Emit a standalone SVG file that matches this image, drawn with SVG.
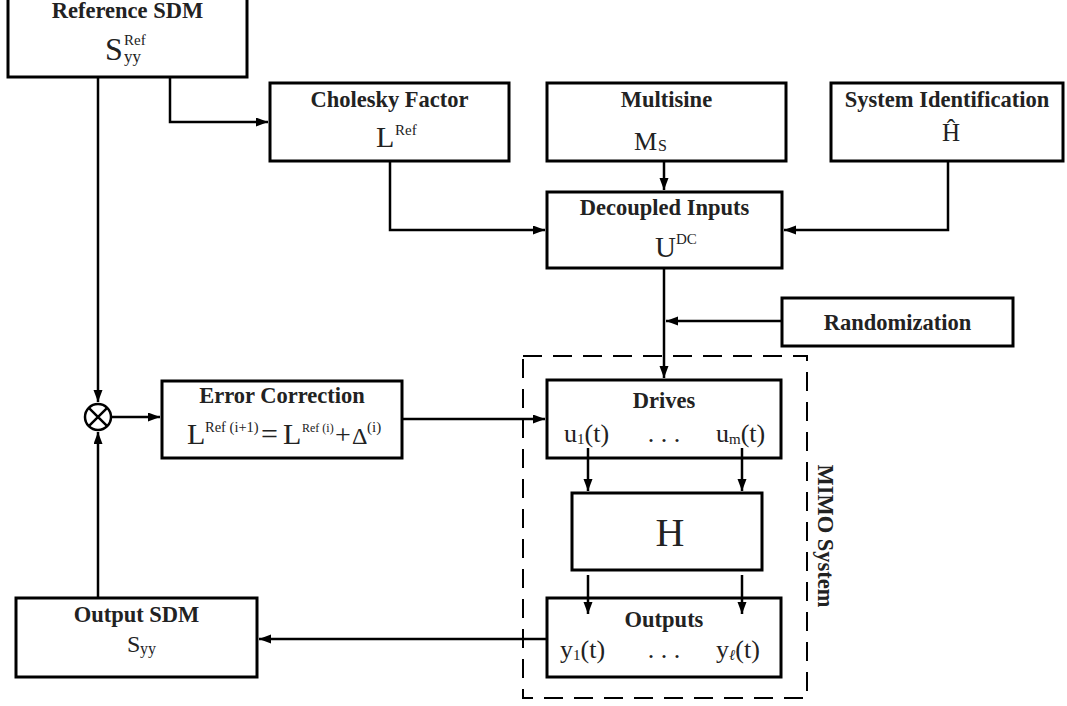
<svg xmlns="http://www.w3.org/2000/svg" width="1067" height="706" viewBox="0 0 1067 706">
<style>
.box{fill:#fff;stroke:#000;stroke-width:3}
.ln{fill:none;stroke:#000;stroke-width:2.5}
.t{font-family:"Liberation Serif","Times New Roman",serif;font-weight:bold;font-size:22.5px;fill:#222;text-anchor:middle}
.m{font-family:"Liberation Serif","Times New Roman",serif;fill:#222}
</style>
<defs>
<marker id="ah" markerUnits="userSpaceOnUse" markerWidth="14" markerHeight="10" refX="12" refY="4.5" orient="auto">
<path d="M0,0 L12,4.5 L0,9 Z" fill="#000"/>
</marker>
</defs>
<rect width="1067" height="706" fill="#fff"/>

<g id="mimo">
<rect x="523" y="356" width="284" height="342" fill="none" stroke="#000" stroke-width="2" stroke-dasharray="19,11"/>
<text class="t" transform="translate(818,536) rotate(90)">MIMO System</text>
</g>

<g id="sum">
<circle cx="98" cy="417" r="13" fill="#fff" stroke="#000" stroke-width="2.5"/>
<path class="ln" d="M88.8,407.8 L107.2,426.2 M107.2,407.8 L88.8,426.2"/>
</g>

<g id="refsdm">
<rect class="box" x="8" y="-3" width="239" height="80"/>
<text class="t" x="127.5" y="18">Reference SDM</text>
<text class="m" x="105" y="60" font-size="32">S</text>
<text class="m" x="124" y="45" font-size="15">Ref</text>
<text class="m" x="124" y="62" font-size="17">yy</text>
</g>

<g id="cholesky">
<rect class="box" x="270" y="83" width="239" height="78"/>
<text class="t" x="389.5" y="107">Cholesky Factor</text>
<text class="m" x="376" y="147" font-size="30">L</text>
<text class="m" x="395" y="135" font-size="15">Ref</text>
</g>

<g id="multisine">
<rect class="box" x="547" y="83" width="239" height="78"/>
<text class="t" x="666.5" y="107">Multisine</text>
<text class="m" x="634" y="150" font-size="26">M</text>
<text class="m" x="658" y="151" font-size="16">S</text>
</g>

<g id="sysid">
<rect class="box" x="831" y="83" width="232" height="78"/>
<text class="t" x="947" y="107">System Identification</text>
<text class="m" x="951" y="141" font-size="25" text-anchor="middle">Ĥ</text>
</g>

<g id="decoupled">
<rect class="box" x="547" y="192" width="235" height="76"/>
<text class="t" x="664.5" y="215">Decoupled Inputs</text>
<text class="m" x="655" y="257" font-size="29">U</text>
<text class="m" x="676" y="244" font-size="15">DC</text>
</g>

<g id="randomization">
<rect class="box" x="782" y="298" width="231" height="48"/>
<text class="t" x="897.5" y="330">Randomization</text>
</g>

<g id="errorcorr">
<rect class="box" x="162" y="381" width="240" height="77"/>
<text class="t" x="282" y="403">Error Correction</text>
<text class="m" x="187" y="444" font-size="30">L</text>
<text class="m" x="205" y="432" font-size="14.5">Ref (i+1)</text>
<text class="m" x="261" y="444" font-size="30">=</text>
<text class="m" x="283" y="444" font-size="30">L</text>
<text class="m" x="302" y="432" font-size="12">Ref (i)</text>
<text class="m" x="335" y="444" font-size="28">+</text>
<text class="m" x="352" y="444" font-size="24">Δ</text>
<text class="m" x="367" y="432" font-size="15">(i)</text>
</g>

<g id="drives">
<rect class="box" x="547" y="380" width="234" height="78"/>
<text class="t" x="664" y="408">Drives</text>
<text class="m" x="564" y="442" font-size="26">u<tspan font-size="15" dy="2">1</tspan><tspan dy="-2">(t)</tspan></text>
<text class="m" x="664" y="442" font-size="26" text-anchor="middle">. . .</text>
<text class="m" x="716" y="442" font-size="26">u<tspan font-size="15" dy="2">m</tspan><tspan dy="-2">(t)</tspan></text>
</g>

<g id="h">
<rect class="box" x="572" y="493" width="190" height="77"/>
<text class="m" x="670" y="546" font-size="40" text-anchor="middle">H</text>
</g>

<g id="outputs">
<rect class="box" x="547" y="598" width="234" height="79"/>
<text class="t" x="664" y="627">Outputs</text>
<text class="m" x="560" y="658" font-size="26">y<tspan font-size="15" dy="2">1</tspan><tspan dy="-2">(t)</tspan></text>
<text class="m" x="664" y="658" font-size="26" text-anchor="middle">. . .</text>
<text class="m" x="716" y="658" font-size="26">y<tspan font-size="15" dy="2" font-style="italic">ℓ</tspan><tspan dy="-2">(t)</tspan></text>
</g>

<g id="outsdm">
<rect class="box" x="16" y="598" width="241" height="79"/>
<text class="t" x="136.5" y="622">Output SDM</text>
<text class="m" x="127" y="652" font-size="24">S</text>
<text class="m" x="140" y="654" font-size="16">yy</text>
</g>

<g id="connectors">
<path class="ln" d="M98,77 V402" marker-end="url(#ah)"/>
<path class="ln" d="M170,77 V122 H268" marker-end="url(#ah)"/>
<path class="ln" d="M390,161 V230 H545" marker-end="url(#ah)"/>
<path class="ln" d="M664,161 V190" marker-end="url(#ah)"/>
<path class="ln" d="M948,161 V230 H784" marker-end="url(#ah)"/>
<path class="ln" d="M664,268 V378" marker-end="url(#ah)"/>
<path class="ln" d="M782,321 H666" marker-end="url(#ah)"/>
<path class="ln" d="M111,417 H160" marker-end="url(#ah)"/>
<path class="ln" d="M402,419 H545" marker-end="url(#ah)"/>
<path class="ln" d="M588,448 V491" marker-end="url(#ah)"/>
<path class="ln" d="M742,448 V491" marker-end="url(#ah)"/>
<path class="ln" d="M588,575 V614" marker-end="url(#ah)"/>
<path class="ln" d="M742,575 V614" marker-end="url(#ah)"/>
<path class="ln" d="M547,639 H259" marker-end="url(#ah)"/>
<path class="ln" d="M98,598 V432" marker-end="url(#ah)"/>
</g>
</svg>
